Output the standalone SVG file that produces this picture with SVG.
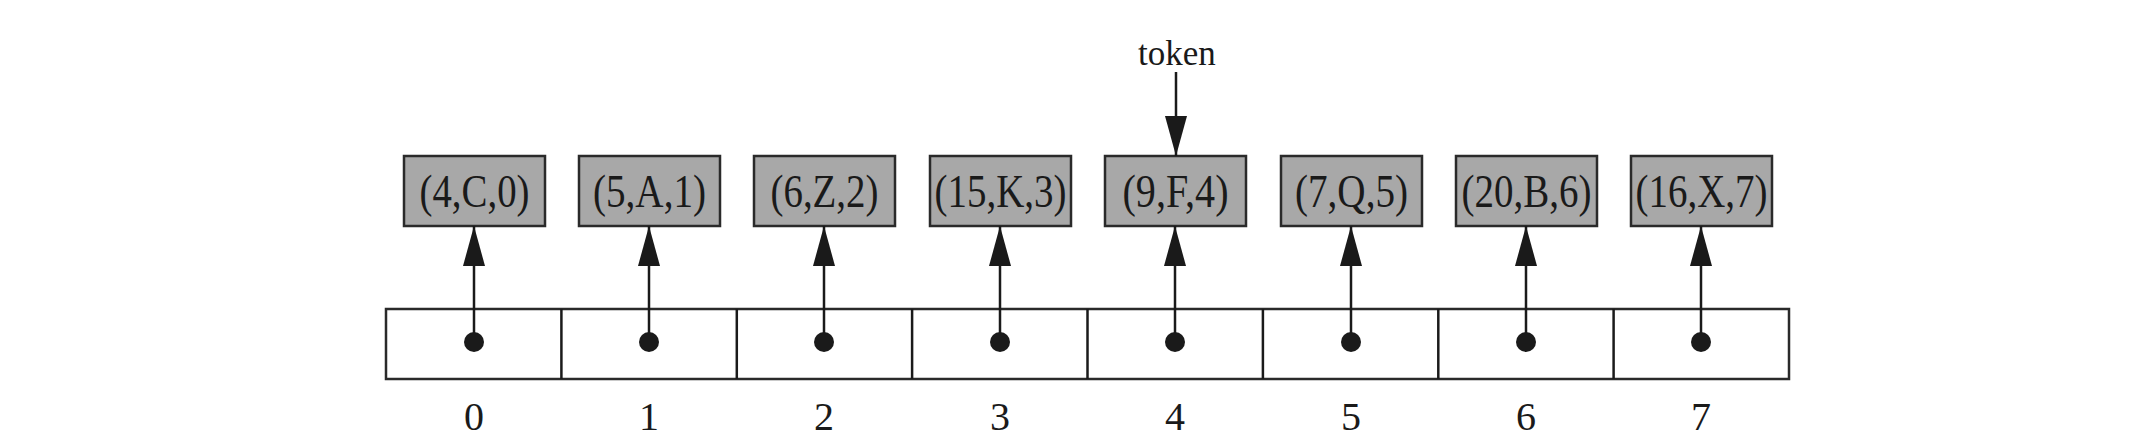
<svg xmlns="http://www.w3.org/2000/svg" width="2141" height="441" viewBox="0 0 2141 441">
<style>
.box{fill:#a8a8a8;stroke:#2a2a2a;stroke-width:2.5}
.cell{fill:#ffffff;stroke:#2a2a2a;stroke-width:2.5}
.t{font-family:"Liberation Serif","Times New Roman",serif;font-size:46px;fill:#1a1a1a;text-anchor:middle}
.idx{font-family:"Liberation Serif","Times New Roman",serif;font-size:40px;fill:#1a1a1a;text-anchor:middle}
.lbl{font-family:"Liberation Serif","Times New Roman",serif;font-size:35px;fill:#1a1a1a;text-anchor:middle}
.ln{stroke:#1a1a1a;stroke-width:2.5;fill:none}
.dot{fill:#1a1a1a}
</style>
<defs>
<marker id="ah" viewBox="0 0 40 22" refX="40" refY="11" markerWidth="40" markerHeight="22" markerUnits="userSpaceOnUse" orient="auto">
<path d="M0,0 L40,11 L0,22 Z" fill="#1a1a1a"/>
</marker>
</defs>
<rect width="2141" height="441" fill="#ffffff"/>
<g id="array">
<rect class="cell" x="386" y="309" width="1403" height="70"/>
<line class="ln" x1="561.4" y1="309" x2="561.4" y2="379"/>
<line class="ln" x1="736.8" y1="309" x2="736.8" y2="379"/>
<line class="ln" x1="912.1" y1="309" x2="912.1" y2="379"/>
<line class="ln" x1="1087.5" y1="309" x2="1087.5" y2="379"/>
<line class="ln" x1="1262.9" y1="309" x2="1262.9" y2="379"/>
<line class="ln" x1="1438.3" y1="309" x2="1438.3" y2="379"/>
<line class="ln" x1="1613.6" y1="309" x2="1613.6" y2="379"/>
</g>
<g id="indices">
<text class="idx" x="474" y="430">0</text>
<text class="idx" x="649" y="430">1</text>
<text class="idx" x="824" y="430">2</text>
<text class="idx" x="1000" y="430">3</text>
<text class="idx" x="1175" y="430">4</text>
<text class="idx" x="1351" y="430">5</text>
<text class="idx" x="1526" y="430">6</text>
<text class="idx" x="1701" y="430">7</text>
</g>
<g id="node0"><rect class="box" x="404" y="156" width="141" height="70"/><text class="t" x="474.5" y="207" textLength="110" lengthAdjust="spacingAndGlyphs">(4,C,0)</text></g>
<g id="node1"><rect class="box" x="579" y="156" width="141" height="70"/><text class="t" x="649.5" y="207" textLength="113" lengthAdjust="spacingAndGlyphs">(5,A,1)</text></g>
<g id="node2"><rect class="box" x="754" y="156" width="141" height="70"/><text class="t" x="824.5" y="207" textLength="108" lengthAdjust="spacingAndGlyphs">(6,Z,2)</text></g>
<g id="node3"><rect class="box" x="930" y="156" width="141" height="70"/><text class="t" x="1000.5" y="207" textLength="132" lengthAdjust="spacingAndGlyphs">(15,K,3)</text></g>
<g id="node4"><rect class="box" x="1105" y="156" width="141" height="70"/><text class="t" x="1175.5" y="207" textLength="106" lengthAdjust="spacingAndGlyphs">(9,F,4)</text></g>
<g id="node5"><rect class="box" x="1281" y="156" width="141" height="70"/><text class="t" x="1351.5" y="207" textLength="113" lengthAdjust="spacingAndGlyphs">(7,Q,5)</text></g>
<g id="node6"><rect class="box" x="1456" y="156" width="141" height="70"/><text class="t" x="1526.5" y="207" textLength="130" lengthAdjust="spacingAndGlyphs">(20,B,6)</text></g>
<g id="node7"><rect class="box" x="1631" y="156" width="141" height="70"/><text class="t" x="1701.5" y="207" textLength="132" lengthAdjust="spacingAndGlyphs">(16,X,7)</text></g>
<g id="token"><text class="lbl" x="1177" y="65">token</text></g>
<g id="connectors">
<line class="ln" x1="1176" y1="72" x2="1176" y2="156" marker-end="url(#ah)"/>
<line class="ln" x1="474" y1="342" x2="474" y2="226" marker-end="url(#ah)"/>
<line class="ln" x1="649" y1="342" x2="649" y2="226" marker-end="url(#ah)"/>
<line class="ln" x1="824" y1="342" x2="824" y2="226" marker-end="url(#ah)"/>
<line class="ln" x1="1000" y1="342" x2="1000" y2="226" marker-end="url(#ah)"/>
<line class="ln" x1="1175" y1="342" x2="1175" y2="226" marker-end="url(#ah)"/>
<line class="ln" x1="1351" y1="342" x2="1351" y2="226" marker-end="url(#ah)"/>
<line class="ln" x1="1526" y1="342" x2="1526" y2="226" marker-end="url(#ah)"/>
<line class="ln" x1="1701" y1="342" x2="1701" y2="226" marker-end="url(#ah)"/>
<circle class="dot" cx="474" cy="342" r="10"/>
<circle class="dot" cx="649" cy="342" r="10"/>
<circle class="dot" cx="824" cy="342" r="10"/>
<circle class="dot" cx="1000" cy="342" r="10"/>
<circle class="dot" cx="1175" cy="342" r="10"/>
<circle class="dot" cx="1351" cy="342" r="10"/>
<circle class="dot" cx="1526" cy="342" r="10"/>
<circle class="dot" cx="1701" cy="342" r="10"/>
</g>
</svg>
